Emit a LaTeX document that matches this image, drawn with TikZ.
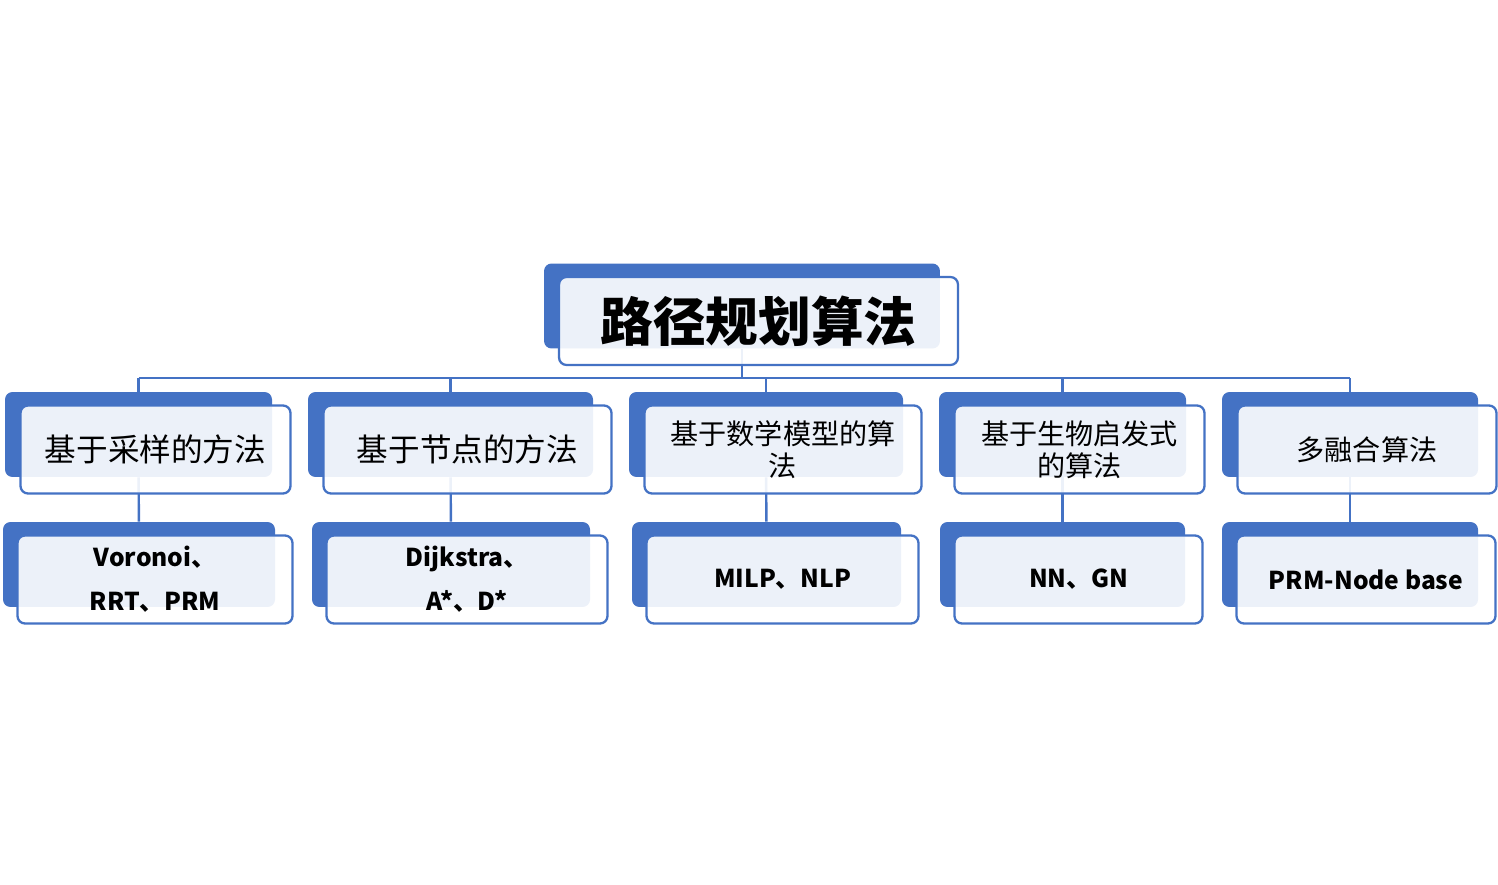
\documentclass[tikz,border=0pt]{standalone}
\usepackage{fontspec}
\setmainfont{Noto Sans CJK SC}
\usetikzlibrary{positioning,backgrounds}
\definecolor{boxblue}{HTML}{4472C4}

\begin{document}
\begin{tikzpicture}[x=0.02cm, y=-0.02cm,
    back/.style={fill=boxblue, rounded corners=0.15cm, inner sep=0pt, minimum height=1.7cm},
    front/.style={draw=boxblue, line width=1.3pt, fill=white, fill opacity=0.9, text opacity=1,
      rounded corners=0.15cm, inner sep=0pt, minimum height=1.76cm, align=center},
    link/.style={draw=boxblue, line width=1.4pt}]
    \useasboundingbox (0,0) rectangle (1498,885);
    \coordinate (bus) at (0,378);

    % Draw root box
    \node[back, minimum width=7.92cm] (rootback) at (742,306) {};
    \node[front, minimum width=7.98cm, font=\fontsize{30}{36}\selectfont\bfseries] (root)
      at ([shift={(16.5,15)}]rootback) {\raisebox{2pt}{路径规划算法}};

    % Categories
    \foreach \i/\x/\w/\fs/\txt in {1/138.5/267/18/基于采样的方法, 2/450.5/285/18/基于节点的方法,
      3/766/274/16/{基于数学模型的算\\法}, 4/1062.5/247/16/{基于生物启发式\\的算法}, 5/1350/256/16/多融合算法} {
      \node[back, minimum width=\w*0.02cm] (catback\i) at (\x,434.5) {};
      \node[front, minimum width=(\w+3)*0.02cm, font=\fontsize{\fs}{18}\selectfont] (cat\i)
        at ([shift={(17,15)}]catback\i) {\txt};
    }

    % Algorithms
    \foreach \i/\x/\w/\txt in {1/139/272/{Voronoi、\\RRT、PRM}, 2/451/278/{Dijkstra、\\A*、D*},
      3/766.5/269/MILP、NLP, 4/1062.5/245/NN、GN, 5/1350/256/PRM-Node base} {
      \node[back, minimum width=\w*0.02cm] (algback\i) at (\x,564.5) {};
      \node[front, minimum width=(\w+3)*0.02cm, font=\fontsize{14}{25}\selectfont\bfseries] (alg\i)
        at ([shift={(16,15)}]algback\i) {\txt};
    }

    % Draw connectors behind the boxes
    \begin{scope}[on background layer]
      \draw[link] (rootback) -- (rootback |- bus);
      \draw[link] (catback1 |- bus) -- (catback5 |- bus);
      \foreach \i in {1,...,5} {
        \draw[link] (catback\i |- bus) -- (catback\i);
        \draw[link] (catback\i) -- (algback\i);
      }
    \end{scope}
\end{tikzpicture}
\end{document}
